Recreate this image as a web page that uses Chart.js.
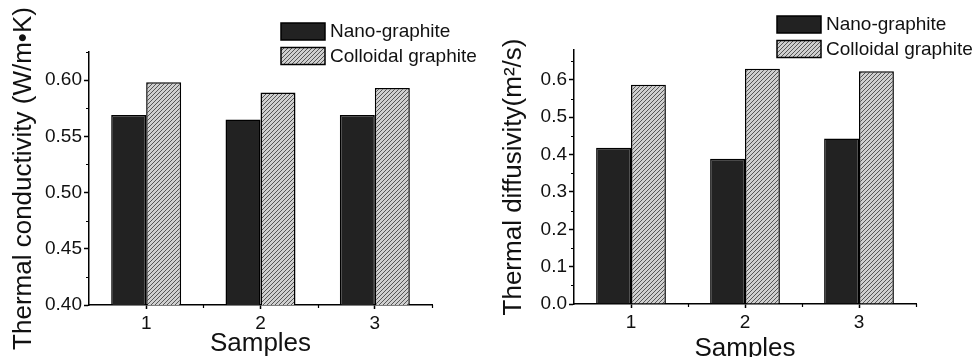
<!DOCTYPE html>
<html>
<head>
<meta charset="utf-8">
<script src="https://cdn.jsdelivr.net/npm/chart.js@4.4.0/dist/chart.umd.min.js"></script>
<style>
body { margin: 0; background: #fff; }
.wrap { position: absolute; top: 0; height: 357px; }
</style>
</head>
<body>
<div class="wrap" style="left:0;width:490px"><canvas id="condChart" width="490" height="357"></canvas></div>
<div class="wrap" style="left:490px;width:485px"><canvas id="diffChart" width="485" height="357"></canvas></div>
<script>
const samples = ['1', '2', '3'];
const seriesNames = ['Nano-graphite', 'Colloidal graphite'];
// thermal conductivity (W/m.K)
const condNano = [0.569, 0.565, 0.569];
const condColloidal = [0.598, 0.589, 0.593];
// thermal diffusivity (m2/s)
const diffNano = [0.418, 0.389, 0.443];
const diffColloidal = [0.587, 0.630, 0.623];

Chart.defaults.font.family = '"Liberation Sans", Arial, sans-serif';
Chart.defaults.color = '#111';

function hatchPattern() {
    const c = document.createElement('canvas');
    c.width = 4; c.height = 4;
    const g = c.getContext('2d');
    g.fillStyle = '#cfcfcf';
    g.fillRect(0, 0, 4, 4);
    g.strokeStyle = '#555';
    g.lineWidth = 1;
    g.beginPath();
    g.moveTo(-1, 5); g.lineTo(5, -1);
    g.moveTo(-1, 1); g.lineTo(1, -1);
    g.moveTo(3, 5); g.lineTo(5, 3);
    g.stroke();
    return g.createPattern(c, 'repeat');
}
const hatch = hatchPattern();

// small ticks between the labelled ones
const minorTicks = {
    id: 'minorTicks',
    afterDraw(chart) {
        const ctx = chart.ctx;
        const y = chart.scales.y, x = chart.scales.x;
        ctx.save();
        ctx.strokeStyle = '#000';
        ctx.lineWidth = 1.2;
        ctx.beginPath();
        const vals = y.ticks.map(t => t.value);
        const step = vals[1] - vals[0];
        for (let v = vals[0] + step / 2; v <= y.max + 1e-9; v += step) {
            const py = Math.round(y.getPixelForValue(v)) + 0.5;
            ctx.moveTo(y.right - 3, py); ctx.lineTo(y.right, py);
        }
        for (let i = 0; i < samples.length; i++) {
            const px = Math.round(x.getPixelForValue(i + 0.5)) + 0.5;
            ctx.moveTo(px, x.top); ctx.lineTo(px, x.top + 3);
        }
        ctx.stroke();
        ctx.restore();
    }
};

const boxLegend = {
    id: 'boxLegend',
    afterDraw(chart, args, opts) {
        const ctx = chart.ctx;
        ctx.save();
        chart.data.datasets.forEach((ds, i) => {
            const top = opts.y + i * opts.gap;
            ctx.fillStyle = ds.backgroundColor;
            ctx.fillRect(opts.x, top, 44, 17);
            ctx.strokeStyle = '#000';
            ctx.lineWidth = 1.5;
            ctx.strokeRect(opts.x, top, 44, 17);
            ctx.fillStyle = '#111';
            ctx.font = '19px "Liberation Sans", Arial, sans-serif';
            ctx.textBaseline = 'middle';
            ctx.textAlign = 'left';
            ctx.fillText(ds.label, opts.x + 49, top + 9);
        });
        ctx.restore();
    }
};

function makeChart(id, nano, colloidal, cfg) {
    return new Chart(document.getElementById(id), {
        type: 'bar',
        data: {
            labels: samples,
            datasets: [
                { label: seriesNames[0], data: nano, backgroundColor: '#222222', borderColor: '#000', borderWidth: 1.5 },
                { label: seriesNames[1], data: colloidal, backgroundColor: hatch, borderColor: '#000', borderWidth: 1.5 }
            ]
        },
        options: {
            responsive: false,
            animation: false,
            devicePixelRatio: 1,
            categoryPercentage: 0.612,
            barPercentage: 1.0,
            layout: { padding: { top: cfg.top, right: cfg.right, bottom: 0, left: 0 } },
            scales: {
                x: {
                    offset: true,
                    grid: { offset: false, drawOnChartArea: false, drawTicks: true, tickLength: 4, tickColor: '#000', tickWidth: 1.5 },
                    border: { display: true, color: '#000', width: 1.5 },
                    ticks: { font: { size: 19 }, padding: 3, maxRotation: 0 },
                    title: { display: true, text: 'Samples', font: { size: 26, lineHeight: 1 }, padding: { top: 0, bottom: cfg.xTitlePad } },
                    afterFit: s => { s.height = cfg.xHeight; }
                },
                y: {
                    min: cfg.min,
                    max: cfg.max,
                    grid: { drawOnChartArea: false, drawTicks: true, tickLength: 5, tickColor: '#000', tickWidth: 1.5 },
                    border: { display: true, color: '#000', width: 1.5 },
                    ticks: {
                        stepSize: cfg.step,
                        includeBounds: false,
                        font: { size: 19 },
                        padding: 2,
                        callback: v => v.toFixed(cfg.digits)
                    },
                    title: { display: true, text: cfg.yTitle, font: { size: 26, lineHeight: 1 }, padding: { top: 11, bottom: 0 } },
                    afterFit: s => { s.width = cfg.yWidth; }
                }
            },
            plugins: {
                legend: { display: false },
                tooltip: { enabled: false },
                boxLegend: { x: cfg.legX, y: cfg.legY, gap: cfg.legGap }
            }
        },
        plugins: [minorTicks, boxLegend]
    });
}

makeChart('condChart', condNano, condColloidal, {
    top: 52, right: 58, xHeight: 52, yWidth: 89, xTitlePad: 0,
    min: 0.40, max: 0.625, step: 0.05, digits: 2,
    yTitle: 'Thermal conductivity (W/m\u2022K)',
    legX: 281, legY: 23, legGap: 24.5
});

makeChart('diffChart', diffNano, diffColloidal, {
    top: 50, right: 59, xHeight: 53, yWidth: 84, xTitlePad: -5,
    min: 0, max: 0.68, step: 0.1, digits: 1,
    yTitle: 'Thermal diffusivity(m\u00b2/s)',
    legX: 287, legY: 16, legGap: 24.5
});
</script>
</body>
</html>
